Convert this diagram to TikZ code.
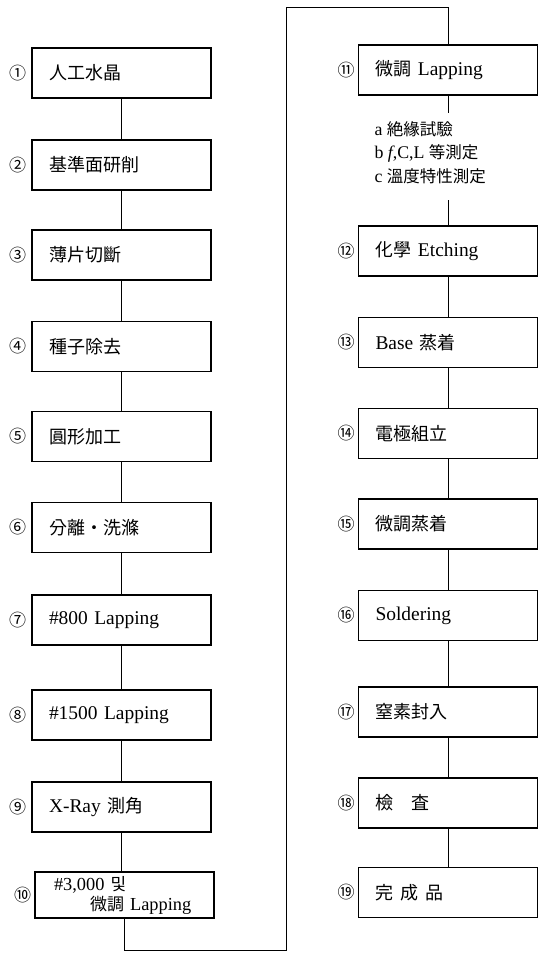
\documentclass[tikz,border=0pt]{standalone}
\usepackage{fontspec}
\setmainfont[Scale=1.08]{Liberation Serif}
\newfontfamily\kr{Noto Sans CJK KR}
\usetikzlibrary{positioning}
\tikzset{
    every path/.style={line width=1pt},
    proc/.style={draw, line width=1.6pt, minimum width=179pt, minimum height=50pt,
        text width=145pt, inner xsep=17pt, align=left, font=\fontsize{18}{21}\selectfont},
    num/.style={inner sep=0.5pt, font=\kr\fontsize{17}{17}\selectfont},
    note/.style={inner sep=0pt, align=left, font=\fontsize{16.5}{23.5}\selectfont}
}

\begin{document}
\begin{tikzpicture}[x=1pt,y=-1pt]
\useasboundingbox (0,0) rectangle (551,959);

% left column
\node[proc] at (121.5,73) (n1) {\kr 人工水晶};
\node[proc] at (121.5,165) (n2) {\kr 基準面研削};
\node[proc] at (121.5,255) (n3) {\kr 薄片切斷};
\node[proc] at (121.5,346.5) (n4) {\kr 種子除去};
\node[proc] at (121.5,436.5) (n5) {\kr 圓形加工};
\node[proc] at (121.5,527.5) (n6) {\kr 分離・洗滌};
\node[proc] at (121.5,620) (n7) {\#800 Lapping};
\node[proc] at (121.5,715) (n8) {\#1500 Lapping};
\node[proc] at (121.5,807) (n9) {X-Ray {\kr 測角}};
\node[proc, minimum height=46pt, text width=157pt, inner xsep=11pt,
    font=\fontsize{17}{20}\selectfont] at (124.5,895) (n10)
    {\hspace*{8pt}\#3,000 {\kr 및}\\\hspace*{44pt}{\kr 微調} Lapping};

% right column
\node[proc] at (448,70) (n11) {{\kr 微調} Lapping};
\node[note, anchor=north west] at (374,121) (tests)
    {a {\kr 絶緣試驗}\\b \textit{f},C,L {\kr 等測定}\\c {\kr 溫度特性測定}};
\node[proc] at (448,251) (n12) {{\kr 化學} Etching};
\node[proc] at (448,342.5) (n13) {Base {\kr 蒸着}};
\node[proc] at (448,433.5) (n14) {\kr 電極組立};
\node[proc] at (448,524) (n15) {\kr 微調蒸着};
\node[proc] at (448,615.5) (n16) {Soldering};
\node[proc] at (448,712) (n17) {\kr 窒素封入};
\node[proc] at (448,803) (n18) {\kr 檢\hspace{18pt}査};
\node[proc] at (448,892.5) (n19) {\kr 完\hspace{7pt}成\hspace{7pt}品};

% step numbers
\node[num, left=4pt of n1] (l1) {①};
\node[num, left=4pt of n2] (l2) {②};
\node[num, left=4pt of n3] (l3) {③};
\node[num, left=4pt of n4] (l4) {④};
\node[num, left=4pt of n5] (l5) {⑤};
\node[num, left=4pt of n6] (l6) {⑥};
\node[num, left=4pt of n7] (l7) {⑦};
\node[num, left=4pt of n8] (l8) {⑧};
\node[num, left=4pt of n9] (l9) {⑨};
\node[num, left=2pt of n10] (l10) {⑩};
\node[num, left=2pt of n11] (l11) {⑪};
\node[num, left=2pt of n12] (l12) {⑫};
\node[num, left=2pt of n13] (l13) {⑬};
\node[num, left=2pt of n14] (l14) {⑭};
\node[num, left=2pt of n15] (l15) {⑮};
\node[num, left=2pt of n16] (l16) {⑯};
\node[num, left=2pt of n17] (l17) {⑰};
\node[num, left=2pt of n18] (l18) {⑱};
\node[num, left=2pt of n19] (l19) {⑲};

\coordinate (c1) at (286,950);
\coordinate (c2) at (286,7);

\draw (n1) -- (n2);
\draw (n2) -- (n3);
\draw (n3) -- (n4);
\draw (n4) -- (n5);
\draw (n5) -- (n6);
\draw (n6) -- (n7);
\draw (n7) -- (n8);
\draw (n8) -- (n9);
\draw (n9.south) -- (n9.south |- n10.north);
\draw (n10.south) |- (c1) -- (c2) -| (n11.north);

\draw (n11) -- (n11 |- 0,113);
\draw (n12) -- (n12 |- 0,200);
\draw (n12) -- (n13);
\draw (n13) -- (n14);
\draw (n14) -- (n15);
\draw (n15) -- (n16);
\draw (n16) -- (n17);
\draw (n17) -- (n18);
\draw (n18) -- (n19);
\end{tikzpicture}
\end{document}
